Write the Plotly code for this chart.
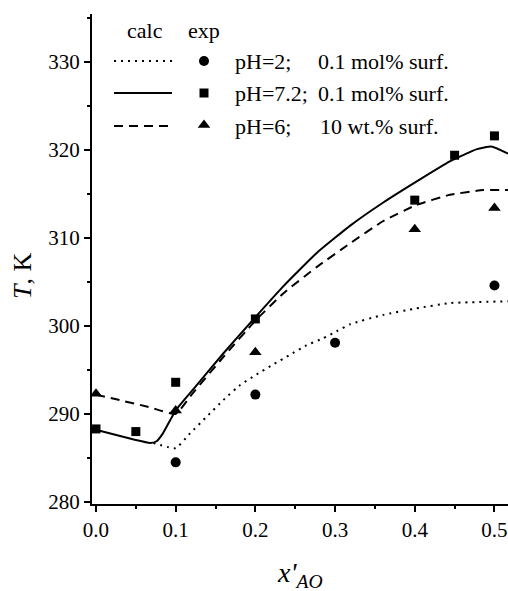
import plotly.graph_objects as go

# ---------------- data ----------------
# experimental points
exp_ph2_x = [0.1, 0.2, 0.3, 0.5]
exp_ph2_T = [284.5, 292.2, 298.1, 304.6]

exp_ph72_x = [0.0, 0.05, 0.1, 0.2, 0.4, 0.45, 0.5]
exp_ph72_T = [288.3, 288.0, 293.6, 300.8, 314.3, 319.4, 321.6]

exp_ph6_x = [0.0, 0.1, 0.2, 0.4, 0.5]
exp_ph6_T = [292.3, 290.4, 297.0, 311.0, 313.4]

# calculated curves
calc_ph2_x = [0.072, 0.1, 0.118, 0.139, 0.16, 0.181, 0.2, 0.222, 0.243, 0.264,
              0.285, 0.302, 0.319, 0.36, 0.402, 0.444, 0.517]
calc_ph2_T = [286.7, 286.1, 287.8, 289.7, 291.6, 293.3, 294.4, 295.6, 296.7, 297.8,
              298.6, 299.4, 300.2, 301.25, 302.0, 302.6, 302.8]

calc_ph72_x = [0.0, 0.068, 0.076, 0.084, 0.1, 0.122, 0.16, 0.2, 0.235, 0.277,
               0.319, 0.36, 0.402, 0.444, 0.478, 0.496, 0.517]
calc_ph72_T = [288.2, 286.7, 286.9, 287.8, 290.4, 292.8, 296.9, 301.0, 304.5, 308.3,
               311.4, 314.0, 316.4, 318.7, 320.1, 320.4, 319.6]

calc_ph6_x = [0.0, 0.066, 0.1, 0.12, 0.16, 0.2, 0.235, 0.277, 0.319, 0.36,
              0.402, 0.444, 0.486, 0.517]
calc_ph6_T = [292.2, 290.8, 290.0, 292.2, 296.5, 300.6, 303.7, 306.7, 309.4, 311.9,
              313.75, 314.9, 315.45, 315.45]

x_tick_vals = [0.0, 0.1, 0.2, 0.3, 0.4, 0.5]
x_tick_text = ["0.0", "0.1", "0.2", "0.3", "0.4", "0.5"]
y_tick_vals = [280, 290, 300, 310, 320, 330]

legend_labels_ph = ["pH=2;", "pH=7.2;", "pH=6;"]
legend_labels_surf = ["0.1 mol% surf.", "0.1 mol% surf.", "10 wt.% surf."]

# ---------------- styles ----------------
FONT = "Liberation Serif"
BLACK = "black"
DOT = "2px,5px"
DASH = "9px,6px"
LW = 2
SMOOTH = 0.4

fig = go.Figure()

# calc curves
fig.add_trace(go.Scatter(x=calc_ph2_x, y=calc_ph2_T, mode="lines",
                         line=dict(color=BLACK, width=LW, dash=DOT, shape="spline", smoothing=SMOOTH),
                         showlegend=False))
fig.add_trace(go.Scatter(x=calc_ph72_x, y=calc_ph72_T, mode="lines",
                         line=dict(color=BLACK, width=LW, shape="spline", smoothing=SMOOTH),
                         showlegend=False))
fig.add_trace(go.Scatter(x=calc_ph6_x, y=calc_ph6_T, mode="lines",
                         line=dict(color=BLACK, width=LW, dash=DASH, shape="spline", smoothing=SMOOTH),
                         showlegend=False))

# experimental markers
fig.add_trace(go.Scatter(x=exp_ph2_x, y=exp_ph2_T, mode="markers",
                         marker=dict(symbol="circle", size=10, color=BLACK), showlegend=False))
fig.add_trace(go.Scatter(x=exp_ph72_x, y=exp_ph72_T, mode="markers",
                         marker=dict(symbol="square", size=9, color=BLACK), showlegend=False))
fig.add_trace(go.Scatter(x=exp_ph6_x, y=exp_ph6_T, mode="markers",
                         marker=dict(symbol="triangle-up", size=11, color=BLACK), showlegend=False))

# ---------------- custom legend on hidden pixel-like axes ----------------
leg_rows_y = [61, 93, 126]
leg_line_x = [114, 172]
leg_marker_x = 204
leg_dashes = [DOT, "solid", DASH]
leg_symbols = ["circle", "square", "triangle-up"]
leg_sizes = [10, 9, 11]
for i in range(3):
    fig.add_trace(go.Scatter(x=leg_line_x, y=[leg_rows_y[i]] * 2, mode="lines",
                             line=dict(color=BLACK, width=LW, dash=leg_dashes[i]),
                             xaxis="x2", yaxis="y2", showlegend=False, hoverinfo="skip"))
    fig.add_trace(go.Scatter(x=[leg_marker_x], y=[leg_rows_y[i] - (1 if i == 2 else 0)], mode="markers",
                             marker=dict(symbol=leg_symbols[i], size=leg_sizes[i], color=BLACK),
                             xaxis="x2", yaxis="y2", showlegend=False, hoverinfo="skip"))

annotations = [
    dict(x=145, y=30, xref="x2", yref="y2", text="calc", showarrow=False,
         font=dict(family=FONT, size=22, color=BLACK)),
    dict(x=204, y=30, xref="x2", yref="y2", text="exp", showarrow=False,
         font=dict(family=FONT, size=22, color=BLACK)),
]
for i in range(3):
    annotations.append(dict(x=233, y=leg_rows_y[i], xref="x2", yref="y2", text=legend_labels_ph[i],
                            showarrow=False, xanchor="left", font=dict(family=FONT, size=22, color=BLACK)))
    annotations.append(dict(x=316 if i < 2 else 318, y=leg_rows_y[i], xref="x2", yref="y2",
                            text=legend_labels_surf[i], showarrow=False, xanchor="left",
                            font=dict(family=FONT, size=22, color=BLACK)))

# axis titles (paper coordinates, plot area is 416 x 490 px)
annotations.append(dict(x=(22 - 92) / 416, y=(504 - 276) / 490, xref="paper", yref="paper",
                        xanchor="center", yanchor="middle",
                        text="<i>T</i>, K", textangle=-90,
                        showarrow=False, font=dict(family=FONT, size=26, color=BLACK)))
annotations.append(dict(x=(300 - 92) / 416, y=(504 - 574) / 490, xref="paper", yref="paper",
                        xanchor="center", yanchor="middle",
                        text="<i>x'</i><sub><i>AO</i></sub>",
                        showarrow=False, font=dict(family=FONT, size=28, color=BLACK)))

fig.update_layout(
    width=508, height=591,
    margin=dict(l=92, r=0, t=14, b=87),
    paper_bgcolor="white", plot_bgcolor="white",
    font=dict(family=FONT, color=BLACK, size=21),
    showlegend=False,
    xaxis=dict(range=[-0.005, 0.517], tickvals=x_tick_vals, ticktext=x_tick_text,
               showline=True, linewidth=2, linecolor=BLACK, ticks="outside", ticklen=6,
               tickwidth=2, tickcolor=BLACK, showgrid=False, zeroline=False,
               ticklabeloverflow="allow",
               tickfont=dict(family=FONT, size=21, color=BLACK),
               minor=dict(dtick=0.05, tick0=0, ticks="outside", ticklen=3, tickwidth=2, tickcolor=BLACK)),
    yaxis=dict(range=[279.77, 335.45], tickvals=y_tick_vals,
               showline=True, linewidth=2, linecolor=BLACK, ticks="outside", ticklen=6,
               tickwidth=2, tickcolor=BLACK, showgrid=False, zeroline=False,
               tickfont=dict(family=FONT, size=21, color=BLACK),
               minor=dict(dtick=5, tick0=280, ticks="outside", ticklen=3, tickwidth=2, tickcolor=BLACK)),
    xaxis2=dict(range=[92, 508], overlaying="x", visible=False, fixedrange=True),
    yaxis2=dict(range=[504, 14], overlaying="y", visible=False, fixedrange=True),
    annotations=annotations,
)

fig.write_html("out.html",
               config={"displayModeBar": False},
               post_script="document.body.style.margin='0';document.body.style.overflow='hidden';")
